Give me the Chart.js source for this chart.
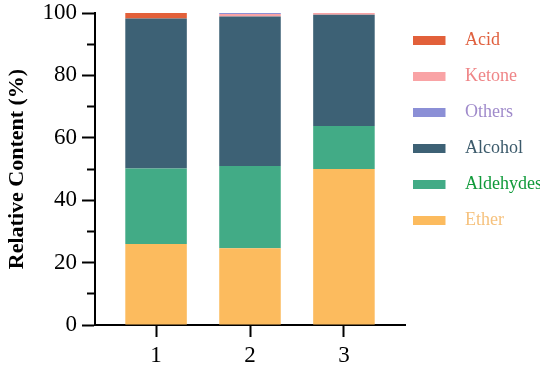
<!DOCTYPE html>
<html>
<head>
<meta charset="utf-8">
<script src="https://cdn.jsdelivr.net/npm/chart.js@4/dist/chart.umd.min.js"></script>
<style>
  html, body { margin: 0; padding: 0; background: #fff; }
  #wrap { width: 550px; height: 374px; }
</style>
</head>
<body>
<div id="wrap"><canvas id="myChart"></canvas></div>
<script>
// samples on the x axis
var samples = [1, 2, 3];

// relative content (%), stacked bottom to top
var ether     = [26.0, 24.6, 50.0];
var aldehydes = [24.2, 26.4, 13.8];
var alcohol   = [48.0, 47.9, 35.6];
var ketone    = [0.0, 0.8, 0.6];
var others    = [0.0, 0.3, 0.0];
var acid      = [1.8, 0.0, 0.0];

var legendOrder = ["Acid", "Ketone", "Others", "Alcohol", "Aldehydes", "Ether"];

var serif = '"Liberation Serif", "DejaVu Serif", serif';

function makeSet(label, data, color, textColor){
    return {
        label: label,
        data: data,
        backgroundColor: color,
        borderWidth: 0,
        textColor: textColor
    };
}

// legend swatch: a 33x9 block on the left of a wider canvas, so the text sits further right
function swatch(color){
    var c = document.createElement('canvas');
    c.width = 54;
    c.height = 9;
    var g = c.getContext('2d');
    g.fillStyle = color;
    g.fillRect(0, 0, 33, 9);
    return c;
}

new Chart(document.getElementById("myChart"), {
    type: 'bar',
    data: {
        labels: samples,
        datasets: [
            makeSet("Ether", ether, '#fcbb5e', '#f6c27e'),
            makeSet("Aldehydes", aldehydes, '#42ab86', '#109a3a'),
            makeSet("Alcohol", alcohol, '#3d6175', '#3b5a6b'),
            makeSet("Ketone", ketone, '#f9a3a5', '#ef8587'),
            makeSet("Others", others, '#8b8fd6', '#a08bcb'),
            makeSet("Acid", acid, '#e2603a', '#e0603e')
        ]
    },
    options: {
        responsive: true,
        maintainAspectRatio: false,
        animation: false,
        categoryPercentage: 1,
        barPercentage: 0.655,
        layout: {
            padding: {top: 13, right: 10, bottom: 0, left: 0}
        },
        scales: {
            x: {
                type: 'linear',
                stacked: true,
                offset: false,
                min: 0.35,
                max: 3.65,
                afterFit: function(scale){
                    scale.height = 49;
                    scale.paddingLeft = 0;
                    scale.paddingRight = 0;
                },
                ticks: {
                    stepSize: 1,
                    includeBounds: false,
                    color: '#000',
                    padding: 5,
                    font: {family: serif, size: 23}
                },
                grid: {
                    offset: false,
                    drawOnChartArea: false,
                    drawTicks: true,
                    tickLength: 12,
                    tickColor: '#000',
                    tickWidth: 2
                },
                border: {display: true, color: '#000', width: 2}
            },
            y: {
                stacked: true,
                min: 0,
                max: 100,
                afterFit: function(scale){
                    scale.width = 95;
                    scale.paddingTop = 0;
                    scale.paddingBottom = 0;
                },
                title: {
                    display: true,
                    text: 'Relative Content (%)',
                    color: '#000',
                    padding: {top: 4, bottom: 0},
                    font: {family: serif, size: 22, weight: 'bold'}
                },
                ticks: {
                    stepSize: 10,
                    color: '#000',
                    padding: 5,
                    font: {family: serif, size: 23},
                    callback: function(value){
                        return value % 20 === 0 ? value : '';
                    }
                },
                grid: {
                    drawOnChartArea: false,
                    drawTicks: true,
                    tickLength: 13,
                    tickColor: '#000',
                    tickWidth: 2,
                    // minor ticks only show the part next to the axis
                    tickBorderDash: function(context){
                        return context.tick && context.tick.value % 20 !== 0 ? [0, 5, 20] : [];
                    }
                },
                border: {display: true, color: '#000', width: 2}
            }
        },
        plugins: {
            tooltip: {enabled: false},
            legend: {
                position: 'right',
                align: 'start',
                labels: {
                    usePointStyle: true,
                    pointStyleWidth: 33,
                    boxWidth: 33,
                    boxHeight: 9,
                    padding: 18,
                    font: {family: serif, size: 18},
                    generateLabels: function(chart){
                        var items = Chart.defaults.plugins.legend.labels.generateLabels(chart);
                        items.forEach(function(item){
                            var ds = chart.data.datasets[item.datasetIndex];
                            item.fontColor = ds.textColor;
                            item.pointStyle = swatch(ds.backgroundColor);
                            item.lineWidth = 0;
                        });
                        return items;
                    },
                    sort: function(a, b){
                        return legendOrder.indexOf(a.text) - legendOrder.indexOf(b.text);
                    }
                }
            }
        }
    }
});
</script>
</body>
</html>
